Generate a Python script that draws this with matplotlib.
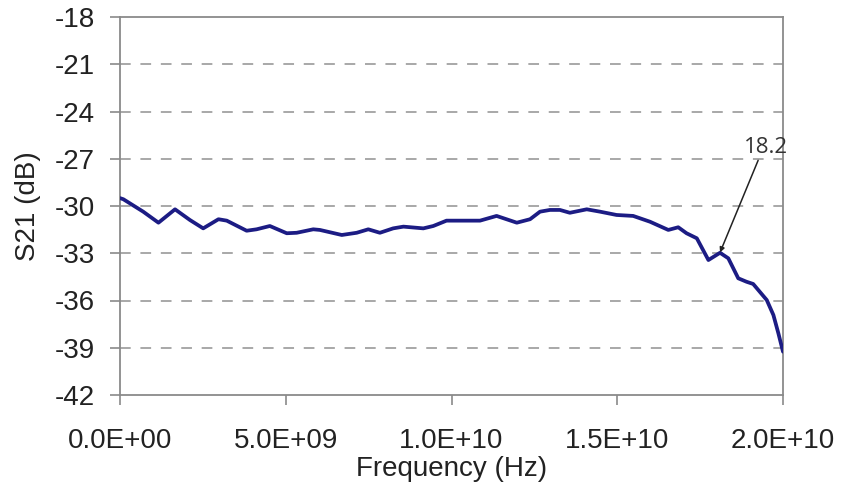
import matplotlib
matplotlib.use("Agg")
import matplotlib.pyplot as plt
from matplotlib.ticker import FuncFormatter

freq_hz = [0.0e9, 0.10e9, 0.70e9, 1.16e9, 1.66e9, 2.11e9, 2.51e9, 2.97e9, 3.22e9,
           3.82e9, 4.12e9, 4.52e9, 5.03e9, 5.33e9, 5.83e9, 6.03e9, 6.69e9, 7.14e9,
           7.49e9, 7.84e9, 8.24e9, 8.55e9, 9.15e9, 9.45e9, 9.85e9, 10.86e9, 11.36e9,
           11.97e9, 12.37e9, 12.67e9, 12.97e9, 13.27e9, 13.57e9, 14.08e9, 14.48e9,
           14.98e9, 15.48e9, 15.99e9, 16.54e9, 16.84e9, 17.09e9, 17.40e9, 17.75e9,
           18.10e9, 18.35e9, 18.65e9, 18.90e9, 19.10e9, 19.51e9, 19.71e9, 19.86e9,
           20.0e9]
s21_db = [-29.50, -29.57, -30.36, -31.06, -30.21, -30.89, -31.42, -30.84, -30.93,
          -31.57, -31.48, -31.27, -31.73, -31.70, -31.48, -31.52, -31.84, -31.70,
          -31.48, -31.70, -31.42, -31.31, -31.42, -31.27, -30.93, -30.93, -30.63,
          -31.06, -30.84, -30.36, -30.25, -30.25, -30.43, -30.21, -30.36,
          -30.57, -30.63, -31.00, -31.52, -31.35, -31.73, -32.05, -33.43,
          -32.97, -33.32, -34.59, -34.81, -34.95, -35.97, -36.92, -38.08,
          -39.25]

x_ticks = [0.0, 5.0e9, 1.0e10, 1.5e10, 2.0e10]
y_ticks = [-42, -39, -36, -33, -30, -27, -24, -21, -18]

annot_text = "18.2"
annot_point = (1.81e10, -32.95)
annot_text_pos = (1.95e10, -26.3)
annot_line_start = (1.925e10, -27.1)

plt.rcParams['font.family'] = ['Liberation Sans', 'DejaVu Sans']

fig = plt.figure(figsize=(8.42, 4.93), dpi=100)
ax = fig.add_axes([120/842, 98/493, 663/842, 378/493])

ax.plot(freq_hz, s21_db, color='#1c1c84', lw=2.7, solid_joinstyle='round',
        solid_capstyle='round', zorder=3)

ax.set_xlim(0, 2.0e10)
ax.set_ylim(-42, -18)
ax.set_xticks(x_ticks)
ax.set_yticks(y_ticks)
ax.xaxis.set_major_formatter(FuncFormatter(lambda v, p: f"{v:.1E}"))
ax.yaxis.set_major_formatter(FuncFormatter(lambda v, p: f"{int(round(v))}"))

for y in y_ticks[1:-1]:
    ax.axhline(y, color='#a8a8a8', lw=1.4, ls=(0, (5.5, 5)), zorder=1)

for s in ax.spines.values():
    s.set_color('#8a8a8a')
    s.set_linewidth(1.3)

ax.tick_params(axis='both', colors='#8a8a8a', labelcolor='#222222', labelsize=20,
               width=1.2)
ax.tick_params(axis='y', length=7, pad=11, direction='out')
ax.tick_params(axis='x', length=7, pad=17, direction='out')

ax.set_xlabel("Frequency (Hz)", fontsize=20, color='#222222', labelpad=1)
ax.set_ylabel("S21 (dB)", fontsize=20, color='#222222', labelpad=10)

ax.annotate('', xy=annot_point, xytext=annot_line_start,
            arrowprops=dict(arrowstyle='-|>', color='#222222', lw=1.1,
                            mutation_scale=7, shrinkA=0, shrinkB=0),
            annotation_clip=False, zorder=4)
ax.text(annot_text_pos[0], annot_text_pos[1], annot_text, fontsize=16,
        family=['Open Sans', 'DejaVu Sans'], color='#333333',
        ha='center', va='center', clip_on=False, zorder=5)

fig.savefig("out.png", dpi=100)
